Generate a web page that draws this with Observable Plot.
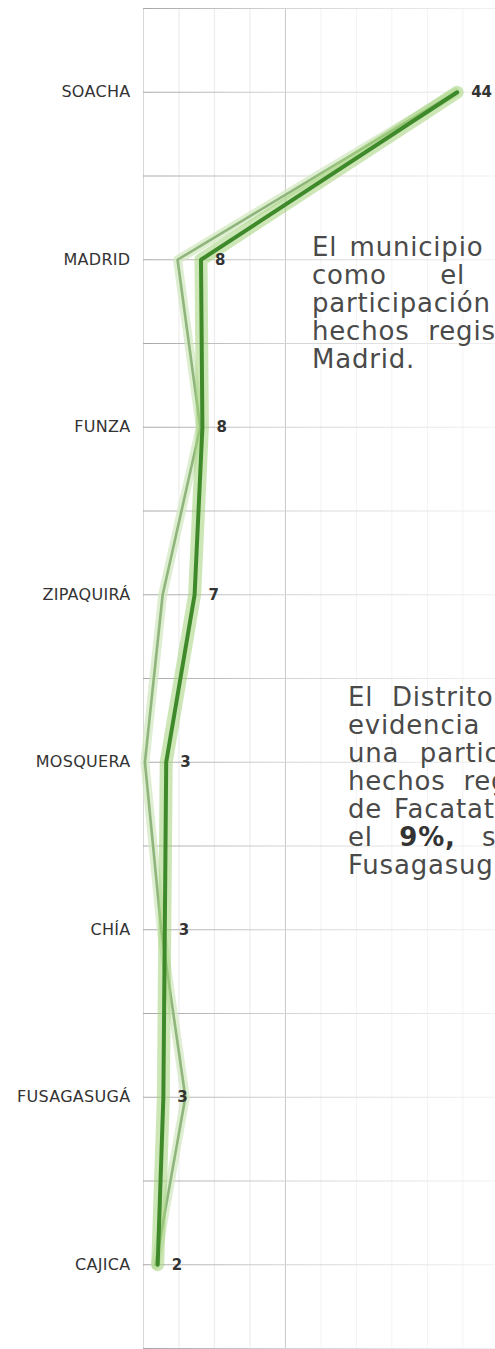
<!DOCTYPE html>
<html>
<head>
<meta charset="utf-8">
<script src="https://cdn.jsdelivr.net/npm/d3@7"></script>
<script src="https://cdn.jsdelivr.net/npm/@observablehq/plot@0.6"></script>
<style>
  html, body { margin: 0; padding: 0; background: #fff; overflow: hidden; width: 495px; height: 1349px; }
  #wrap { position: relative; width: 495px; height: 1349px; overflow: hidden; }
  #chart { position: absolute; left: 0; top: 0; }
  .note { position: absolute; font-family: "DejaVu Sans", sans-serif; font-size: 26px; letter-spacing: 0.8px; line-height: 28px; color: #4a4a4a; }
  .note div { text-align: justify; text-align-last: justify; }
  .note div.last { text-align-last: left; }
  .note b { font-weight: bold; color: #333; }
</style>
</head>
<body>
<div id="wrap">
  <div id="chart"></div>
  <div class="note" id="note1" style="left:312px; top:233px; width:460px;"></div>
  <div class="note" id="note2" style="left:348px; top:683px; width:365px;"></div>
</div>
<script>
// ---- data ----
const municipios = ["SOACHA", "MADRID", "FUNZA", "ZIPAQUIRÁ", "MOSQUERA", "CHÍA", "FUSAGASUGÁ", "CAJICA"];
const serieActual = [44.2, 8.1, 8.3, 7.2, 3.2, 3.0, 2.8, 2.0];
const serieAnterior = [44.0, 4.8, 8.0, 2.7, 0.2, 2.5, 5.9, 1.7];
const etiquetas = ["44", "8", "8", "7", "3", "3", "3", "2"];
const gridX = [5, 10, 15];
const gridXAxis = [0];
const gridXMain = [20];
const gridXFaint = [25, 30, 35, 40, 45];

const nota1 = [
  "El municipio de Soacha se ubica",
  "como el de la mayor",
  "participación en los",
  "hechos registrados, seguido de",
  "Madrid."
];
const nota2 = [
  "El Distrito en el periodo",
  "evidencia también",
  "una participación en los",
  "hechos registrados de la",
  "de Facatativá, alcanzando",
  "el <b>9%,</b> seguido por el",
  "Fusagasugá."
];

// ---- table ----
const rows = municipios.map((m, i) => ({
  i, municipio: m, actual: serieActual[i], anterior: serieAnterior[i], etiqueta: etiquetas[i]
}));
const centros = d3.range(municipios.length);
const bordes = d3.range(-0.5, municipios.length, 1);

const font = "'DejaVu Sans', sans-serif";

const chart = Plot.plot({
  width: 495,
  height: 1349,
  marginLeft: 143,
  marginRight: 0,
  marginTop: 8,
  marginBottom: 1,
  style: { fontFamily: font, fontSize: "15px", color: "#333", background: "transparent", overflow: "visible" },
  x: { domain: [0, 49.6], axis: null },
  y: {
    domain: [-0.5, municipios.length - 0.5],
    range: [8, 1348],
    ticks: centros,
    tickFormat: (i) => municipios[i],
    tickSize: 0,
    tickPadding: 13,
    label: null
  },
  marks: [
    Plot.ruleX(gridXFaint, { stroke: "#f3f3f3", strokeWidth: 1 }),
    Plot.ruleX(gridX, { stroke: "#ececec", strokeWidth: 1.2 }),
    Plot.ruleX(gridXAxis, { stroke: "#d8d8d8", strokeWidth: 1 }),
    Plot.ruleX(gridXMain, { stroke: "#c8c8c8", strokeWidth: 1 }),
    Plot.ruleY(bordes, { stroke: "url(#fadeH)", strokeWidth: 1.2 }),
    Plot.ruleY(centros, { stroke: "url(#fadeH)", strokeWidth: 1.2 }),
    // previous series (lighter)
    Plot.line(rows, { x: "anterior", y: "i", stroke: "#d3e8c2", strokeWidth: 9, strokeOpacity: 0.75, strokeLinejoin: "round" }),
    Plot.line(rows, { x: "anterior", y: "i", stroke: "#8fb57c", strokeWidth: 2.6, strokeLinejoin: "round" }),
    // current series (dark, with halo)
    Plot.line(rows, { x: "actual", y: "i", stroke: "#a3d27a", strokeWidth: 13, strokeOpacity: 0.55, strokeLinejoin: "round" }),
    Plot.line(rows, { x: "actual", y: "i", stroke: "#3e8a2b", strokeWidth: 4, strokeLinejoin: "round" }),
    Plot.text(rows, { x: "actual", y: "i", text: "etiqueta", dx: 14, textAnchor: "start", fontWeight: "bold", fontSize: 15, fill: "#333" })
  ]
});

// gradient for horizontal grid lines
const x = chart.scale("x");
const x0 = x.apply(0), x1 = x.apply(49.6);
const svg = d3.select(chart);
const grad = svg.insert("defs", ":first-child").append("linearGradient")
  .attr("id", "fadeH").attr("gradientUnits", "userSpaceOnUse")
  .attr("x1", x0).attr("x2", x1).attr("y1", 0).attr("y2", 0);
grad.append("stop").attr("offset", "0%").attr("stop-color", "#a8a8a8");
grad.append("stop").attr("offset", "40%").attr("stop-color", "#d4d4d4");
grad.append("stop").attr("offset", "100%").attr("stop-color", "#f1f1f1");
svg.selectAll("g[aria-label='y-axis tick label'] text, g[aria-label='y-axis'] text")
  .attr("font-size", 16).attr("fill", "#333").attr("letter-spacing", 0.3);

document.getElementById("chart").appendChild(chart);

function fill(id, lines) {
  const el = document.getElementById(id);
  lines.forEach((t, k) => {
    const d = document.createElement("div");
    d.innerHTML = t;
    if (k === lines.length - 1) d.className = "last";
    el.appendChild(d);
  });
}
fill("note1", nota1);
fill("note2", nota2);
</script>
</body>
</html>
